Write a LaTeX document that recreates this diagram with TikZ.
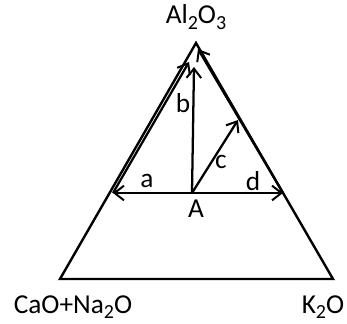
\documentclass[tikz,border=0pt]{standalone}
\usepackage{fontspec}
\setmainfont{Carlito}
\usetikzlibrary{arrows.meta}
\newcommand{\dn}[1]{\raisebox{-0.4ex}{\fontsize{15}{16}\selectfont #1}}
\tikzset{edge/.style={line width=1.8pt,line join=miter},vec/.style={-{Straight Barb[length=7pt,width=11pt,line width=1.5pt]},line width=1.7pt},lab/.style={font=\fontsize{20.5}{24}\selectfont,inner sep=0pt}}
\begin{document}
\begin{tikzpicture}[x=0.75pt,y=-0.75pt]
\useasboundingbox (0,0) rectangle (347,324);
\coordinate (top) at (196,43);
\coordinate (left) at (60,279);
\coordinate (right) at (333,279);
\coordinate (A) at (192,193);
\draw[edge] (top)--(left)--(right)--cycle;
% arrows from A
\coordinate (ea) at (113,193);
\coordinate (ed) at (283,193);
\coordinate (eb) at (194,67);
\coordinate (ec) at (238,120);
\coordinate (ta) at (189,62);
\coordinate (td) at (198,49);
\draw[vec] (A)--(ea);\draw[vec] (A)--(ed);
\draw[vec] (A)--(eb);\draw[vec] (A)--(ec);
\draw[vec] (ea)--(ta);\draw[vec] (ed)--(td);
% labels
\node[lab] (nt) at (196,17) {Al\dn{2}O\dn{3}};
\node[lab] (nl) at (73,307) {CaO+Na\dn{2}O};
\node[lab] (nr) at (323,307) {K\dn{2}O};
\node[lab] (na) at (147,181) {a};
\node[lab] (nb) at (183,103) {b};
\node[lab] (nc) at (221,162) {c};
\node[lab] (nd) at (253,181) {d};
\node[lab] (nA) at (196,209) {A};
\end{tikzpicture}
\end{document}
